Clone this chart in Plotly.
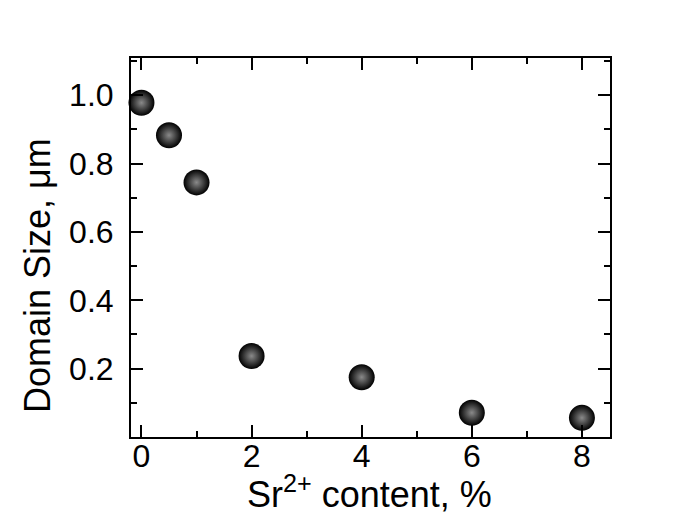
import plotly.graph_objects as go

# Data
sr_content = [0, 0.5, 1, 2, 4, 6, 8]
domain_size = [0.978, 0.883, 0.745, 0.237, 0.175, 0.071, 0.056]
x_ticks = [0, 2, 4, 6, 8]
y_ticks = [0.2, 0.4, 0.6, 0.8, 1.0]
y_tick_labels = ["0.2", "0.4", "0.6", "0.8", "1.0"]

FONT = "Liberation Sans, Arial, sans-serif"

fig = go.Figure()
fig.add_trace(go.Scatter(
    x=sr_content, y=domain_size, mode="markers",
    marker=dict(size=26, color="#000000",
                gradient=dict(type="radial", color="#8a8a8a"),
                line=dict(width=0)),
    showlegend=False, cliponaxis=False,
))

axis_common = dict(
    showline=True, linecolor="black", linewidth=2, mirror="allticks",
    ticks="inside", ticklen=12, tickwidth=2, tickcolor="black",
    showgrid=False, zeroline=False,
    tickfont=dict(family=FONT, size=32, color="black"),
)

fig.update_xaxes(
    range=[-0.19, 8.51], tickvals=x_ticks,
    minor=dict(ticks="inside", ticklen=6, tickwidth=2, tickcolor="black", dtick=1, tick0=0, showgrid=False),
    ticklabelstandoff=-10,
    **axis_common,
)
fig.update_yaxes(
    range=[0.0, 1.109], tickvals=y_ticks, ticktext=y_tick_labels,
    minor=dict(ticks="inside", ticklen=6, tickwidth=2, tickcolor="black", dtick=0.1, tick0=0, showgrid=False),
    ticklabelstandoff=9,
    **axis_common,
)

fig.add_annotation(
    text="Domain Size, μm", textangle=-90, xref="paper", yref="paper",
    x=-0.194, y=0.425, xanchor="center", yanchor="middle", showarrow=False,
    font=dict(family=FONT, size=36, color="black"),
)
fig.add_annotation(
    text="Sr<sup>2+</sup> content, %", xref="paper", yref="paper",
    x=0.497, y=-0.146, xanchor="center", yanchor="middle", showarrow=False,
    font=dict(family=FONT, size=36, color="black"),
)

# The page body has an 8px margin, so the figure is shrunk by 8px
# and the margins reduced to keep the plot area where the reference has it.
fig.update_layout(
    width=685, height=507,
    margin=dict(l=123, r=83, t=50, b=78, autoexpand=False),
    paper_bgcolor="white", plot_bgcolor="white",
)

fig.write_html("out.html")
